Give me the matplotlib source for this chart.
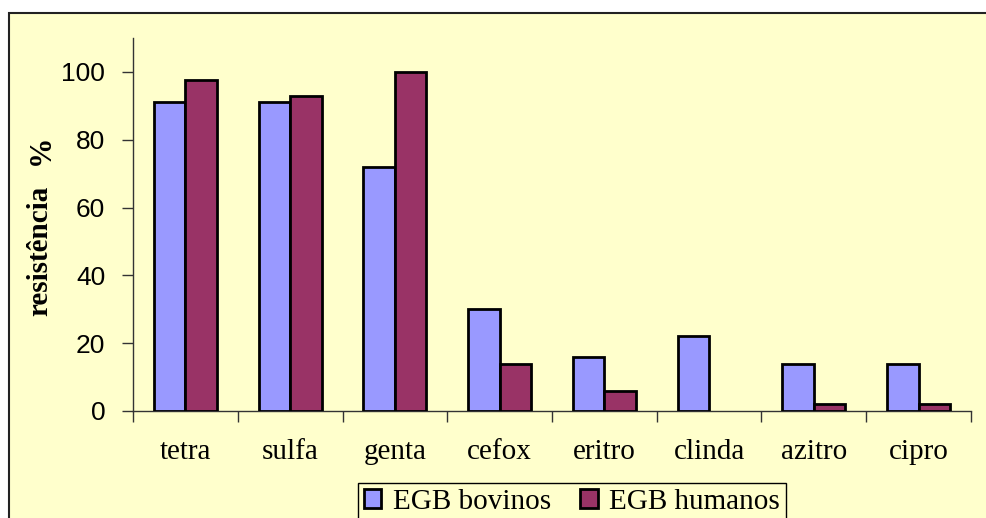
import numpy as np
import matplotlib
matplotlib.use("Agg")
import matplotlib.pyplot as plt
from matplotlib.patches import Rectangle

# data
antibioticos = ["tetra", "sulfa", "genta", "cefox", "eritro", "clinda", "azitro", "cipro"]
bovinos = [91, 91, 72, 30, 16, 22, 14, 14]
humanos = [97.5, 93, 100, 14, 6, 0, 2, 2]
series_names = ["EGB bovinos", "EGB humanos"]

fundo = "#FFFFCC"
cor_bov = "#9999FF"
cor_hum = "#993366"

fig = plt.figure(figsize=(9.86, 5.18), dpi=100)
fig.patch.set_facecolor("white")

# outer chart frame (the right and bottom edges are cropped in the original)
fig.patches.append(Rectangle((9 / 986, -0.1), 1.0, 1 - 12.5 / 518 + 0.1,
                             transform=fig.transFigure, facecolor=fundo,
                             edgecolor="#222222", linewidth=1.5, zorder=-10))

ax = fig.add_axes([133 / 986, 1 - 411 / 518, (971 - 133) / 986, (411 - 38) / 518])
ax.set_facecolor("none")

x = np.arange(len(antibioticos))
w = 0.3
b1 = ax.bar(x - w / 2, bovinos, w, color=cor_bov, edgecolor="black", linewidth=2,
            label=series_names[0], zorder=3)
b2 = ax.bar(x + w / 2, humanos, w, color=cor_hum, edgecolor="black", linewidth=2,
            label=series_names[1], zorder=3)
# zero-height bars leave no mark in the original
for bar in list(b1) + list(b2):
    if bar.get_height() == 0:
        bar.set_visible(False)

ax.set_xlim(-0.5, len(antibioticos) - 0.5)
ax.set_ylim(0, 110)
ax.set_yticks([0, 20, 40, 60, 80, 100])

# category labels centred, ticks on the boundaries
ax.set_xticks(x)
ax.set_xticklabels(antibioticos, fontfamily="Liberation Serif", fontsize=21)
ax.set_xticks(np.arange(len(antibioticos) + 1) - 0.5, minor=True)
ax.tick_params(axis="x", which="major", length=0, pad=20)
ax.tick_params(axis="x", which="minor", length=8, width=1, color="#333333", direction="out")
ax.tick_params(axis="y", length=8, width=1, color="#333333", pad=12, labelsize=19)
for lbl in ax.get_yticklabels():
    lbl.set_fontfamily("Liberation Sans")

for side in ["top", "right"]:
    ax.spines[side].set_visible(False)
for side in ["left", "bottom"]:
    ax.spines[side].set_color("#333333")
    ax.spines[side].set_linewidth(1)

fig.text(40 / 986, 1 - 251 / 518, "resistência", rotation=90, ha="center", va="center",
         fontfamily="Liberation Serif", fontweight="bold", fontsize=21)
fig.text(41 / 986, 1 - 150 / 518, "%", rotation=90, ha="center", va="center",
         fontfamily="Liberation Serif", fontweight="bold", fontsize=22)

leg = fig.legend(loc="upper center", bbox_to_anchor=(572 / 986, 1 - 483 / 518), ncol=2,
                 frameon=True, fancybox=False, edgecolor="black", facecolor=fundo,
                 prop={"family": "Liberation Serif", "size": 21},
                 handlelength=0.6, handleheight=0.6, handletextpad=0.4,
                 columnspacing=1.0, borderpad=0.2, borderaxespad=0)
leg.get_frame().set_linewidth(1)
leg.get_frame().set_alpha(1)

fig.savefig("out.png", dpi=100, facecolor=fig.get_facecolor())
